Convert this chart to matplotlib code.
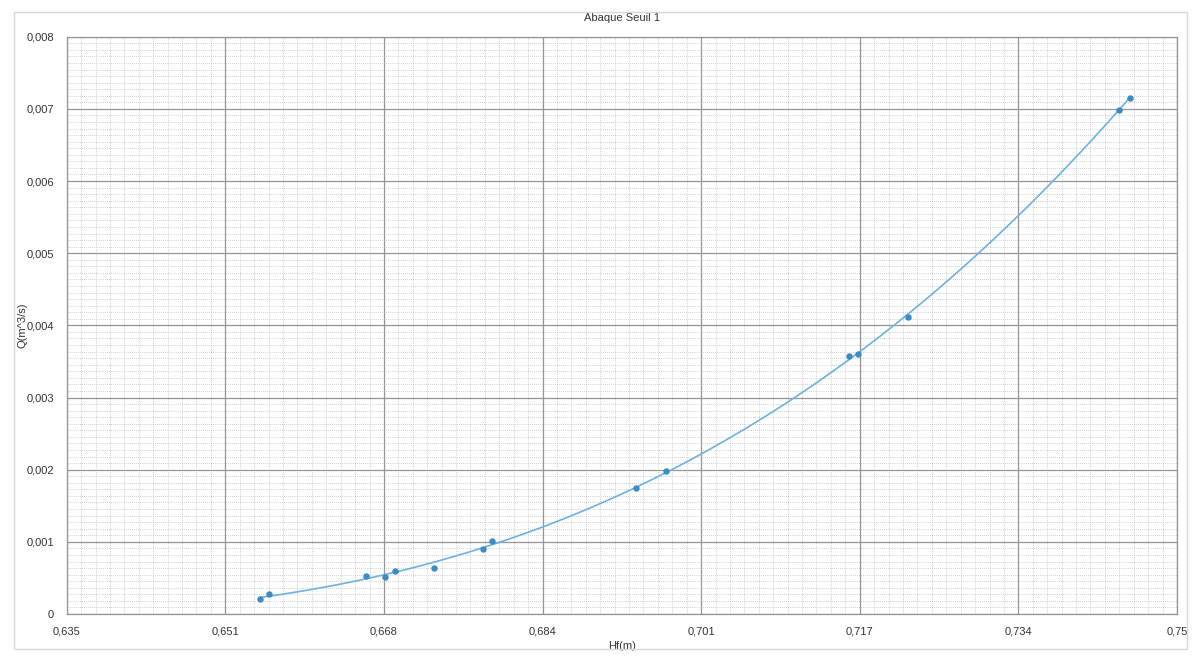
import numpy as np
import matplotlib
matplotlib.use("Agg")
import matplotlib.pyplot as plt
from matplotlib.patches import Rectangle
from matplotlib.ticker import FixedLocator, FuncFormatter

plt.rcParams['font.family'] = ['Liberation Sans', 'DejaVu Sans']

# Data
hf = [0.6550, 0.6560, 0.6660, 0.6680, 0.6690, 0.6730, 0.6781, 0.6790,
      0.6940, 0.6971, 0.7160, 0.7170, 0.7221, 0.7440, 0.7451]
q = [0.000208, 0.000273, 0.000526, 0.000517, 0.000600, 0.000637, 0.000900,
     0.001015, 0.001750, 0.001981, 0.003569, 0.003597, 0.004118, 0.006990,
     0.007156]

title = "Abaque Seuil 1"
xlabel = "Hf(m)"
ylabel = "Q(m^3/s)"
x_min, x_max, x_div = 0.635, 0.75, 7
y_min, y_max, y_div = 0.0, 0.008, 8
minor_sub = 11

fig = plt.figure(figsize=(12, 6.64), dpi=100)
ax = fig.add_axes([0.0556, 0.0753, 0.9252, 0.8694])

# outer frame
fig.patches.append(Rectangle((14/1200, 1-649/664), (1187-14)/1200, (649-12)/664,
                             transform=fig.transFigure, fill=False,
                             edgecolor='#d8d8d8', linewidth=1.0))

xmaj = np.linspace(x_min, x_max, x_div + 1)
ymaj = np.linspace(y_min, y_max, y_div + 1)
xmin_t = np.linspace(x_min, x_max, x_div * minor_sub + 1)
ymin_t = np.linspace(y_min, y_max, y_div * minor_sub + 1)

ax.set_xlim(x_min, x_max)
ax.set_ylim(y_min, y_max)
ax.xaxis.set_major_locator(FixedLocator(xmaj))
ax.yaxis.set_major_locator(FixedLocator(ymaj))
ax.xaxis.set_minor_locator(FixedLocator(xmin_t))
ax.yaxis.set_minor_locator(FixedLocator(ymin_t))

def fmt(v, pos):
    s = f"{v:.3f}".rstrip('0').rstrip('.')
    if s in ("", "-0"):
        s = "0"
    return s.replace('.', ',')

ax.xaxis.set_major_formatter(FuncFormatter(fmt))
ax.yaxis.set_major_formatter(FuncFormatter(fmt))

ax.grid(which='minor', color='#d9d9d9', linewidth=1.0, linestyle='-', zorder=0)
ax.grid(which='minor', color='#a6a6a6', linewidth=0.5, linestyle=(0, (1, 2)), zorder=0)
ax.grid(which='major', color='#959595', linewidth=0.9, linestyle='-', zorder=0.5)
ax.set_axisbelow(True)

ax.tick_params(which='both', length=0)
ax.tick_params(axis='x', pad=9, labelsize=8, labelcolor='#333333')
ax.tick_params(axis='y', pad=9, labelsize=8, labelcolor='#333333')
for sp in ax.spines.values():
    sp.set_color('#959595')
    sp.set_linewidth(0.9)

# trend line (polynomial fit of the data)
coef = np.polyfit(hf, q, 3)
xs = np.linspace(min(hf), max(hf), 300)
ax.plot(xs, np.polyval(coef, xs), color='#6cb2e0', linewidth=1.2, zorder=3)
ax.plot(hf, q, linestyle='none', marker='o', markersize=3.6,
        color='#3b8cc4', zorder=4)

ax.set_title(title, fontsize=8, color='#333333', pad=11)
ax.set_xlabel(xlabel, fontsize=8, color='#333333', labelpad=3)
ax.set_ylabel(ylabel, fontsize=8, color='#333333', labelpad=-1)

fig.savefig("out.png", dpi=100)
